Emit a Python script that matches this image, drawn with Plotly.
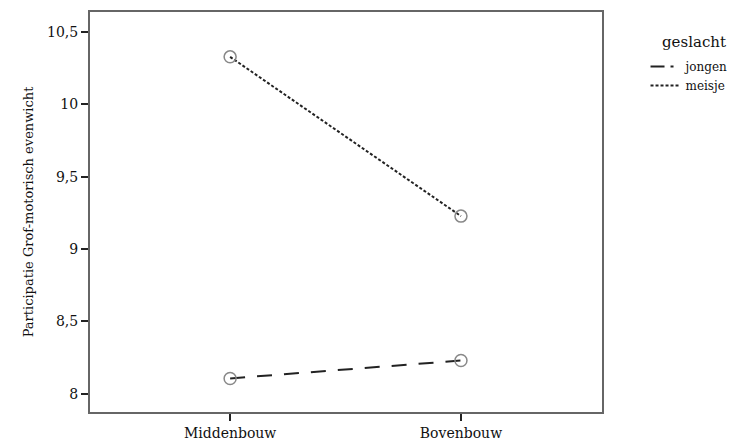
import plotly.graph_objects as go

categories = ["Middenbouw", "Bovenbouw"]
jongen = [8.105, 8.229]
meisje = [10.328, 9.227]
y_ticks = [8, 8.5, 9, 9.5, 10, 10.5]

FONT = "DejaVu Serif"
JONGEN_DASH = "15px,12px"
MEISJE_DASH = "3px,2px"

fig = go.Figure()
fig.add_trace(go.Scatter(
    x=categories, y=jongen, name="jongen", mode="lines+markers", showlegend=False,
    line=dict(color="#222222", width=2, dash=JONGEN_DASH),
    marker=dict(symbol="circle-open", size=12, color="#888888", line=dict(width=1.5)),
))
fig.add_trace(go.Scatter(
    x=categories, y=meisje, name="meisje", mode="lines+markers", showlegend=False,
    line=dict(color="#222222", width=2, dash=MEISJE_DASH),
    marker=dict(symbol="circle-open", size=12, color="#888888", line=dict(width=1.5)),
))
# legend-only entries (lines only, as in the reference legend)
fig.add_trace(go.Scatter(x=[None], y=[None], name="jongen", mode="lines",
                         line=dict(color="#222222", width=2, dash="14px,6px,3px")))
fig.add_trace(go.Scatter(x=[None], y=[None], name="meisje", mode="lines",
                         line=dict(color="#222222", width=2, dash=MEISJE_DASH)))

fig.update_layout(
    width=736, height=437,
    margin=dict(l=82, r=142, t=2, b=33),
    paper_bgcolor="white", plot_bgcolor="white",
    separators=", ",
    font=dict(family=FONT, size=13, color="#111111"),
    showlegend=True,
    legend=dict(
        x=1.085, xanchor="left", y=0.90, yanchor="top",
        itemwidth=30, tracegroupgap=0, font=dict(family=FONT, size=12),
        bgcolor="rgba(0,0,0,0)",
    ),
    annotations=[dict(
        text="geslacht", xref="paper", yref="paper", x=1.18, y=0.925,
        xanchor="center", yanchor="middle", showarrow=False,
        font=dict(family=FONT, size=15),
    )],
    xaxis=dict(
        type="category", range=[-0.607, 1.611],
        showline=True, linecolor="#666666", linewidth=2, mirror=True,
        ticks="outside", ticklen=7, tickcolor="#222222", tickwidth=1.5,
        showgrid=False, zeroline=False,
        tickfont=dict(family=FONT, size=14),
    ),
    yaxis=dict(
        range=[7.873, 10.638], tickvals=y_ticks,
        showline=True, linecolor="#666666", linewidth=2, mirror=True,
        ticks="outside", ticklen=7, tickcolor="#222222", tickwidth=1.5,
        showgrid=False, zeroline=False,
        tickfont=dict(family=FONT, size=14),
        title=dict(text="Participatie Grof-motorisch evenwicht", font=dict(family=FONT, size=13), standoff=10),
    ),
)

fig.write_html("out.html")
